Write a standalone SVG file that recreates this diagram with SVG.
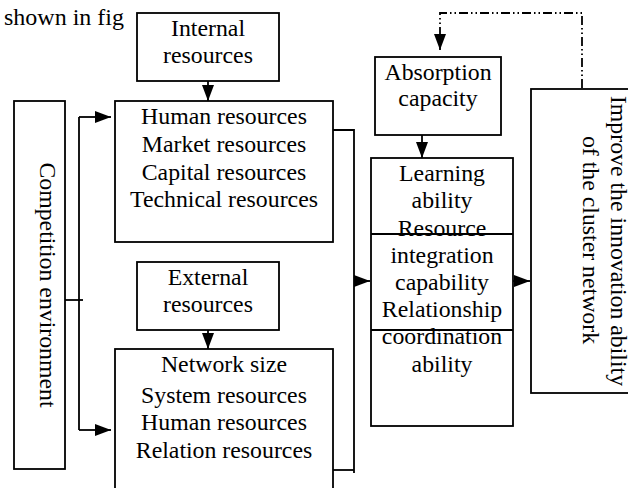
<svg xmlns="http://www.w3.org/2000/svg" width="628" height="488" viewBox="0 0 628 488">
  <style>
    .t { font-family: 'Liberation Serif', 'DejaVu Serif', serif; font-size: 23.8px; fill: #000; }
    .c { text-anchor: middle; }
    .box { fill: #fff; stroke: #000; stroke-width: 1.8; }
    .ln { fill: none; stroke: #000; stroke-width: 1.8; }
    .dd { fill: none; stroke: #000; stroke-width: 1.8; stroke-dasharray: 9 3 1.5 3 1.5 3; }
  </style>
  <defs>
    <marker id="ah" viewBox="0 0 16 12" refX="16" refY="6" markerWidth="16" markerHeight="12" markerUnits="userSpaceOnUse" orient="auto">
      <path d="M0,0 L16,6 L0,12 Z" fill="#000"/>
    </marker>
  </defs>

  <rect width="628" height="488" fill="#fff"/>

  <g class="t" font-family="'Liberation Serif', 'DejaVu Serif', serif">

  <!-- running paragraph text behind the figure -->
  <text x="4" y="25" font-size="24">shown in fig</text>

  <!-- connectors -->
  <g id="connectors">
    <!-- internal / external resources into their detail boxes -->
    <line class="ln" x1="208" y1="81" x2="208" y2="101" marker-end="url(#ah)"/>
    <line class="ln" x1="208" y1="330" x2="208" y2="349" marker-end="url(#ah)"/>
    <!-- competition environment bracket -->
    <line class="ln" x1="65" y1="300" x2="83" y2="300"/>
    <polyline class="ln" points="79,117 79,430"/>
    <line class="ln" x1="79" y1="117" x2="111" y2="117" marker-end="url(#ah)"/>
    <line class="ln" x1="79" y1="430" x2="111" y2="430" marker-end="url(#ah)"/>
    <!-- resource boxes bracket into the capability box -->
    <polyline class="ln" points="333,130 354,130 354,473"/>
    <line class="ln" x1="333" y1="470" x2="354" y2="470"/>
    <line class="ln" x1="354" y1="281" x2="370" y2="281" marker-end="url(#ah)"/>
    <!-- absorption into capabilities -->
    <line class="ln" x1="422" y1="135" x2="422" y2="158" marker-end="url(#ah)"/>
    <!-- capabilities into outcome -->
    <line class="ln" x1="513" y1="281" x2="530" y2="281" marker-end="url(#ah)"/>
    <!-- feedback loop -->
    <polyline class="dd" points="582,88 582,13 440,13 440,36"/>
    <line class="ln" x1="440" y1="34" x2="440" y2="50" marker-end="url(#ah)"/>
  </g>

  <g id="internal">
    <rect class="box" x="137" y="13" width="142" height="68"/>
    <text class="c" x="208" y="36">Internal</text>
    <text class="c" x="208" y="63">resources</text>
  </g>

  <g id="internal-detail">
    <rect class="box" x="115" y="101" width="218" height="141"/>
    <text class="c" x="224" y="124">Human resources</text>
    <text class="c" x="224" y="152">Market resources</text>
    <text class="c" x="224" y="180">Capital resources</text>
    <text class="c" x="224" y="207">Technical resources</text>
  </g>

  <g id="competition">
    <rect class="box" x="14" y="101" width="51" height="368"/>
    <text class="c" transform="translate(40,285) rotate(90)">Competition environment</text>
  </g>

  <g id="external">
    <rect class="box" x="137" y="262" width="142" height="68"/>
    <text class="c" x="208" y="285">External</text>
    <text class="c" x="208" y="312">resources</text>
  </g>

  <g id="external-detail">
    <rect class="box" x="115" y="349" width="218" height="160"/>
    <text class="c" x="224" y="372">Network size</text>
    <text class="c" x="224" y="403">System resources</text>
    <text class="c" x="224" y="430">Human resources</text>
    <text class="c" x="224" y="458">Relation resources</text>
  </g>

  <g id="absorption">
    <rect class="box" x="375" y="57" width="126" height="78"/>
    <text class="c" x="438" y="80">Absorption</text>
    <text class="c" x="438" y="106">capacity</text>
  </g>

  <g id="capabilities">
    <rect class="box" x="371" y="158" width="142" height="268"/>
    <text class="c" x="442" y="181">Learning</text>
    <text class="c" x="442" y="208">ability</text>
    <text class="c" x="442" y="236">Resource</text>
    <text class="c" x="442" y="263">integration</text>
    <text class="c" x="442" y="290">capability</text>
    <text class="c" x="442" y="317">Relationship</text>
    <text class="c" x="442" y="344">coordination</text>
    <text class="c" x="442" y="372">ability</text>
    <line class="ln" x1="371" y1="234" x2="513" y2="234"/>
    <line class="ln" x1="371" y1="330" x2="513" y2="330"/>
  </g>

  <g id="outcome">
    <rect class="box" x="531" y="89" width="120" height="304"/>
    <text class="c" transform="translate(611,241) rotate(90)">Improve the innovation ability</text>
    <text class="c" transform="translate(583,240) rotate(90)">of the cluster network</text>
  </g>

  </g>
</svg>
